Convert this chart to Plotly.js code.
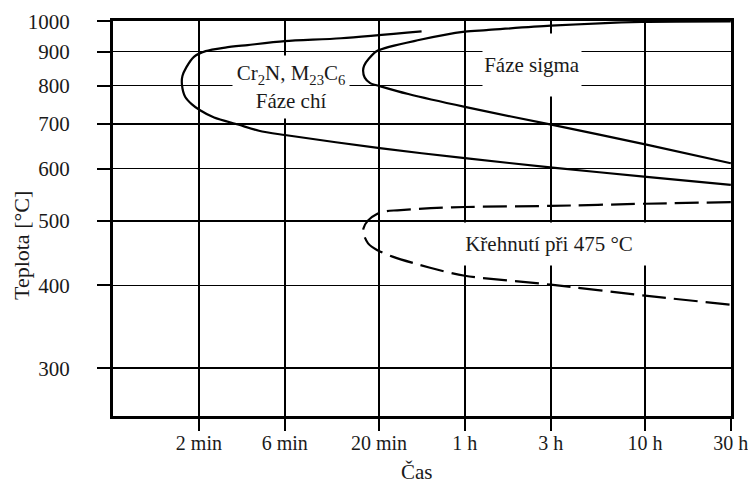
<!DOCTYPE html>
<html>
<head>
<meta charset="utf-8">
<script src="https://cdn.plot.ly/plotly-3.0.1.min.js"></script>
<style>
  html, body { margin: 0; padding: 0; background: #ffffff; }
  #chart { width: 748px; height: 486px; }
</style>
</head>
<body>
<div id="chart"></div>
<script>
// Time axis (minutes) ticks and labels
const timeTicks = [2, 6, 20, 60, 180, 600, 1800];
const timeLabels = ['2 min', '6 min', '20 min', '1 h', '3 h', '10 h', '30 h'];
// Temperature axis ticks (°C)
const tempTicks = [300, 400, 500, 600, 700, 800, 900, 1000];

// Cr2N, M23C6 / chi phase C-curve (time in minutes, temperature in °C)
const chiTime = [34.5, 12.3, 6.0, 3.73, 2.80, 2.18, 1.877, 1.705, 1.62, 1.61, 1.68, 1.83, 2.02, 2.43, 3.30, 4.31, 6.0, 20.2, 60, 184, 612, 1800];
const chiTemp = [966, 943, 933.5, 921, 913, 901.7, 884, 853, 827, 803, 769, 749.6, 735, 716, 698.9, 684, 674, 644, 622, 602, 583, 567];

// Sigma phase C-curve
const sigmaTime = [1800, 577, 180, 79, 60, 33.8, 19.5, 17.6, 16.56, 16.33, 16.67, 17.88, 20.2, 29.1, 60, 184, 612, 1800];
const sigmaTemp = [1000, 998, 985, 970, 965, 938, 902.4, 879, 858, 842.5, 822.5, 807, 798.7, 777, 743, 698, 652, 611];

// 475 °C embrittlement C-curve (dashed)
const embTime = [1800, 600, 180, 60, 38.8, 25.3, 22.0, 19.5, 17.4, 16.4, 16.4, 17.4, 19.5, 23.8, 38.0, 60, 180, 600, 1800];
const embTemp = [534, 531, 527, 525, 522.8, 519, 517.5, 512.5, 501.2, 487.2, 478.8, 462.8, 452.3, 442, 425.6, 413.6, 401, 386, 374];

const serif = 'Liberation Serif, Times New Roman, serif';
const ink = '#1a1a1a';

const traces = [
  { x: chiTime, y: chiTemp, mode: 'lines', name: 'Cr2N, M23C6 / Fáze chí',
    line: { color: '#000', width: 2.2, shape: 'spline', smoothing: 0.8 }, hoverinfo: 'skip' },
  { x: sigmaTime, y: sigmaTemp, mode: 'lines', name: 'Fáze sigma',
    line: { color: '#000', width: 2.2, shape: 'spline', smoothing: 0.8 }, hoverinfo: 'skip' },
  { x: embTime, y: embTemp, mode: 'lines', name: 'Křehnutí při 475 °C',
    line: { color: '#000', width: 2.2, shape: 'spline', smoothing: 0.8, dash: '24px,8px' }, hoverinfo: 'skip' }
];

const layout = {
  width: 748, height: 486,
  margin: { l: 113, r: 17, t: 21, b: 70 },
  paper_bgcolor: '#ffffff', plot_bgcolor: '#ffffff',
  showlegend: false,
  font: { family: serif, size: 21, color: ink },
  xaxis: {
    type: 'log',
    range: [Math.log10(2 / 3), Math.log10(1800) + 0.001],
    tickvals: timeTicks, ticktext: timeLabels,
    ticks: 'outside', ticklen: 12, tickwidth: 2, tickcolor: '#000',
    showgrid: true, gridcolor: '#000', gridwidth: 1.6,
    showline: true, mirror: true, linecolor: '#000', linewidth: 3,
    zeroline: false,
    ticklabeloverflow: 'allow',
    ticklabelstandoff: -5,
    tickfont: { family: serif, size: 20, color: ink }
  },
  yaxis: {
    type: 'log',
    range: [Math.log10(254.2), 3.0005],
    tickvals: tempTicks, ticktext: tempTicks.map(String),
    ticks: 'outside', ticklen: 13, tickwidth: 2, tickcolor: '#000',
    showgrid: true, gridcolor: '#000', gridwidth: 1.6,
    showline: true, mirror: true, linecolor: '#000', linewidth: 3,
    zeroline: false,
    ticklabeloverflow: 'allow',
    ticklabelstandoff: 23,
    tickfont: { family: serif, size: 21, color: ink }
  },
  annotations: [
    { xref: 'x', yref: 'y', x: 0.8146, y: 2.9017,
      text: 'Cr<sub>2</sub>N, M<sub>23</sub>C<sub>6</sub><br>Fáze chí',
      showarrow: false, bgcolor: '#ffffff', width: 114, height: 60,
      font: { family: serif, size: 21, color: ink } },
    { xref: 'x', yref: 'y', x: 2.1502, y: 2.9335,
      text: 'Fáze sigma', showarrow: false, bgcolor: '#ffffff', width: 96, height: 60,
      font: { family: serif, size: 21, color: ink } },
    { xref: 'x', yref: 'y', x: 2.2439, y: 2.6642,
      text: 'Křehnutí při 475 °C', showarrow: false, bgcolor: '#ffffff', width: 222, height: 40,
      font: { family: serif, size: 21, color: ink } },
    { xref: 'paper', yref: 'paper', x: -0.1472, y: 0.4304, xanchor: 'center', yanchor: 'middle',
      text: 'Teplota [°C]', textangle: -90, showarrow: false,
      font: { family: serif, size: 22, color: ink } },
    { xref: 'paper', yref: 'paper', x: 0.4914, y: -0.1772, xanchor: 'center', yanchor: 'bottom',
      text: 'Čas', showarrow: false,
      font: { family: serif, size: 21, color: ink } }
  ]
};

Plotly.newPlot('chart', traces, layout, { staticPlot: true, displayModeBar: false });
</script>
</body>
</html>
